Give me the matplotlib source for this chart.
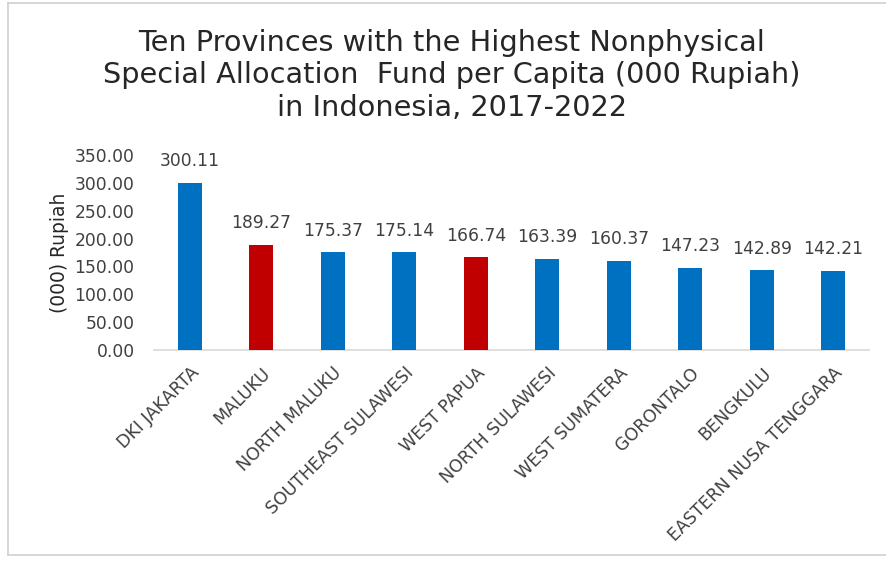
import matplotlib
matplotlib.use("Agg")
import matplotlib.pyplot as plt

provinces = ["DKI JAKARTA", "MALUKU", "NORTH MALUKU", "SOUTHEAST SULAWESI",
             "WEST PAPUA", "NORTH SULAWESI", "WEST SUMATERA", "GORONTALO",
             "BENGKULU", "EASTERN NUSA TENGGARA"]
values = [300.11, 189.27, 175.37, 175.14, 166.74, 163.39, 160.37, 147.23, 142.89, 142.21]
highlight = [False, True, False, False, True, False, False, False, False, False]
yticks = [0, 50, 100, 150, 200, 250, 300, 350]

BLUE = "#0070C0"
RED = "#C00000"

plt.rcParams['font.family'] = ['DejaVu Sans']

fig = plt.figure(figsize=(8.86, 5.62), dpi=100)
fig.patch.set_facecolor("white")
# light frame (left, top, bottom edges)
fig.add_artist(plt.Line2D([8/886, 8/886], [7/562, 1 - 3/562], transform=fig.transFigure,
                          color="#D0D0D0", linewidth=1.2))
fig.add_artist(plt.Line2D([8/886, 1], [1 - 3/562, 1 - 3/562], transform=fig.transFigure,
                          color="#D0D0D0", linewidth=1.2))
fig.add_artist(plt.Line2D([8/886, 1], [7/562, 7/562], transform=fig.transFigure,
                          color="#D0D0D0", linewidth=1.2))

ax = fig.add_axes([154/886, 1 - 350/562, (869 - 154)/886, (350 - 155)/562])
x = list(range(len(provinces)))
colors = [RED if h else BLUE for h in highlight]
ax.bar(x, values, width=0.34, color=colors, zorder=3)

for xi, v in zip(x, values):
    ax.annotate(f"{v:.2f}", xy=(xi, v), xytext=(0, 9), textcoords="offset points",
                ha="center", va="bottom", fontsize=12.3, color="#404040")

ax.set_xlim(-0.5, len(provinces) - 0.5)
ax.set_ylim(0, 350)
ax.set_yticks(yticks)
ax.set_yticklabels([f"{t:.2f}" for t in yticks], fontsize=12.3, color="#404040")
ax.set_xticks(x)
ax.set_xticklabels(provinces, rotation=45, ha="right", rotation_mode="anchor",
                   fontsize=12.5, color="#404040")
ax.tick_params(axis="both", length=0)
ax.tick_params(axis="y", pad=14)
ax.tick_params(axis="x", pad=10)
for s in ["top", "right", "left"]:
    ax.spines[s].set_visible(False)
ax.spines["bottom"].set_color("#D9D9D9")
ax.spines["bottom"].set_linewidth(1.2)
ax.set_ylabel("(000) Rupiah", fontsize=13.4, color="#262626", labelpad=4)

fig.text(452/886, 1 - 29/562, "Ten Provinces with the Highest Nonphysical\n"
         "Special Allocation  Fund per Capita (000 Rupiah)\n"
         "in Indonesia, 2017-2022",
         ha="center", va="top", fontsize=20.7, color="#262626", linespacing=1.2)

fig.savefig("out.png", dpi=100)
